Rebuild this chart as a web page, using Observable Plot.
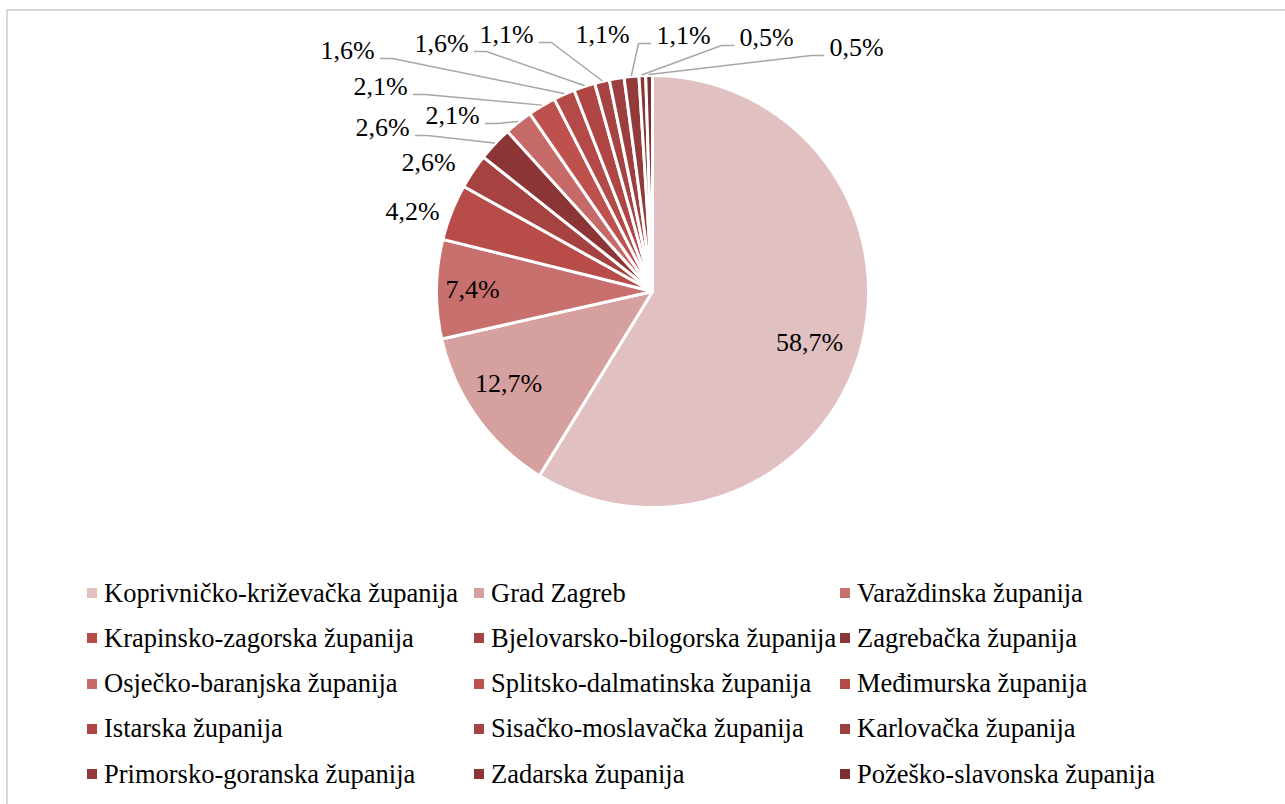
<!DOCTYPE html>
<html><head><meta charset="utf-8">
<script src="https://cdn.jsdelivr.net/npm/d3@7"></script>
<script src="https://cdn.jsdelivr.net/npm/@observablehq/plot@0.6"></script>
<style>
html,body{margin:0;padding:0;background:#fff;overflow:hidden}
#frame{position:absolute;left:6px;top:9px;width:1320px;height:840px;border:2px solid #d9d9d9;box-sizing:border-box}
#chart{position:absolute;left:0;top:0;width:1285px;font-family:'Liberation Serif', serif}
#chart svg{display:block}
#legend{display:grid;grid-template-columns:387px 366px 420px;grid-auto-rows:45.3px;margin-left:87px;padding-top:15px;font-family:'Liberation Serif', serif;font-size:26.5px;color:#000}
.item{display:flex;align-items:center;height:36px;white-space:nowrap}
.sw{width:10px;height:10px;margin-right:7px;flex:none}
</style></head><body>
<div id="frame"></div>
<div id="chart"></div>
<script>
// ---- data ----
const counties = [
  "Koprivničko-križevačka županija", "Grad Zagreb", "Varaždinska županija",
  "Krapinsko-zagorska županija", "Bjelovarsko-bilogorska županija", "Zagrebačka županija",
  "Osječko-baranjska županija", "Splitsko-dalmatinska županija", "Međimurska županija",
  "Istarska županija", "Sisačko-moslavačka županija", "Karlovačka županija",
  "Primorsko-goranska županija", "Zadarska županija", "Požeško-slavonska županija"
];
const shares = [58.7, 12.7, 7.4, 4.2, 2.6, 2.6, 2.1, 2.1, 1.6, 1.6, 1.1, 1.1, 1.1, 0.5, 0.5];
const colors = [
  "#e0c0c1", "#d6a09f", "#c8706e", "#b84c49", "#a64342", "#8b3536",
  "#c66a69", "#be504d", "#b44a47", "#b04644", "#a64342", "#9c3f3e",
  "#933a3a", "#8b3535", "#7c2f2f"
];
// label layout ("best fit" placement): label centre offset from pie centre, px, y up
const labelX = [157, -144, -180, -240, -224, -270, -200, -272, -305, -211, -146, -50, 31, 114, 204];
const labelY = [-51, -92, 2, 80, 129, 164, 176, 205, 241, 248, 257, 257, 256, 254, 244];

// ---- geometry ----
const R = 216;           // pie radius (px)
const CX = 652, CY = 291; // pie centre on the page
const W = 1285, H = 560;
const FONT = "Liberation Serif";

const rows = counties.map((name, i) => ({name, share: shares[i], i}));
const arcs = d3.pie().sort(null).value(d => d.share)(rows);

const slicePts = arcs.flatMap(a => {
  const pts = [{name: a.data.name, x: 0, y: 0}];
  const n = Math.max(2, Math.ceil((a.endAngle - a.startAngle) / 0.005));
  for (let k = 0; k <= n; ++k) {
    const t = a.startAngle + (a.endAngle - a.startAngle) * k / n;
    pts.push({name: a.data.name, x: R * Math.sin(t), y: R * Math.cos(t)});
  }
  return pts;
});

const fmt = v => v.toFixed(1).replace(".", ",") + "%";
const labels = arcs.map(a => ({
  name: a.data.name,
  text: fmt(a.data.share),
  x: labelX[a.data.i],
  y: labelY[a.data.i]
}));

// leader lines for labels placed away from their slice
const hw = 27;
const leaders = arcs.flatMap(a => {
  const i = a.data.i;
  const mid = (a.startAngle + a.endAngle) / 2;
  const ex = (R + 1) * Math.sin(mid), ey = (R + 1) * Math.cos(mid);
  const lx = labelX[i], ly = labelY[i];
  if (Math.hypot(lx, ly) < R) return [];
  if (Math.hypot(ex - lx, ey - ly) < 60) return [];
  const nm = a.data.name;
  if (Math.abs(ex - lx) < hw) return [{name: nm, x: ex, y: ly - 16}, {name: nm, x: ex, y: ey}];
  const s = lx < ex ? 1 : -1;
  return [
    {name: nm, x: lx + s * (hw + 6), y: ly - 8},
    {name: nm, x: lx + s * (hw + 18), y: ly - 8},
    {name: nm, x: ex, y: ey}
  ];
});

const chart = Plot.plot({
  width: W, height: H,
  marginTop: 0, marginRight: 0, marginBottom: 0, marginLeft: 0,
  x: {domain: [-CX, W - CX], axis: null},
  y: {domain: [CY - H, CY], axis: null},
  color: {domain: counties, range: colors},
  style: {background: "transparent", fontFamily: FONT, fontSize: "26px"},
  marks: [
    Plot.line(slicePts, {x: "x", y: "y", z: "name", fill: "name", stroke: "white", strokeWidth: 3, strokeLinejoin: "miter", curve: "linear-closed"}),
    Plot.line(leaders, {x: "x", y: "y", z: "name", stroke: "#a6a6a6", strokeWidth: 1.5}),
    Plot.text(labels, {x: "x", y: "y", text: "text", fill: "#000", fontSize: 26, fontFamily: FONT})
  ]
});
chart.querySelectorAll("text").forEach(t => t.style.fontFamily = FONT);
document.getElementById("chart").appendChild(chart);

// ---- legend ----
const legend = document.createElement("div");
legend.id = "legend";
counties.forEach((c, i) => {
  const it = document.createElement("div");
  it.className = "item";
  const sw = document.createElement("span");
  sw.className = "sw";
  sw.style.background = colors[i];
  const tx = document.createElement("span");
  tx.style.fontFamily = FONT;
  tx.textContent = c;
  it.appendChild(sw); it.appendChild(tx);
  legend.appendChild(it);
});
document.getElementById("chart").appendChild(legend);
</script>
</body></html>
